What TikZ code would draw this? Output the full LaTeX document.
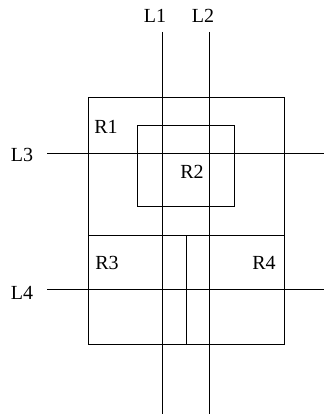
\documentclass[tikz,border=0pt]{standalone}
\usepackage{fontspec}
\setmainfont{Liberation Serif}
\begin{document}
\begin{tikzpicture}[x=1pt, y=-1pt, line width=0.8pt,
    lbl/.style={inner sep=0pt, font=\fontsize{20}{23}\selectfont}]
    \useasboundingbox (0,0) rectangle (324,420);

    % Rectangle exterieur et ses parties
    \draw (88,97) rectangle (284,344);
    \draw (88,235) -- (284,235);
    \draw (186,235) -- (186,344);

    % Rectangle R2
    \draw (137,125) rectangle (234,206);

    % Droites verticales
    \draw (162,32) -- (162,414);
    \draw (209,32) -- (209,414);

    % Droites horizontales
    \draw (47,153) -- (324,153);
    \draw (47,289) -- (324,289);

    % Etiquettes
    \node[lbl] (L1) at (155,16) {L1};
    \node[lbl] (L2) at (203,16) {L2};
    \node[lbl] (L3) at (22,155) {L3};
    \node[lbl] (L4) at (22,293) {L4};
    \node[lbl] (R1) at (106,127) {R1};
    \node[lbl] (R2) at (192,172) {R2};
    \node[lbl] (R3) at (107,263) {R3};
    \node[lbl] (R4) at (264,263) {R4};
\end{tikzpicture}
\end{document}
